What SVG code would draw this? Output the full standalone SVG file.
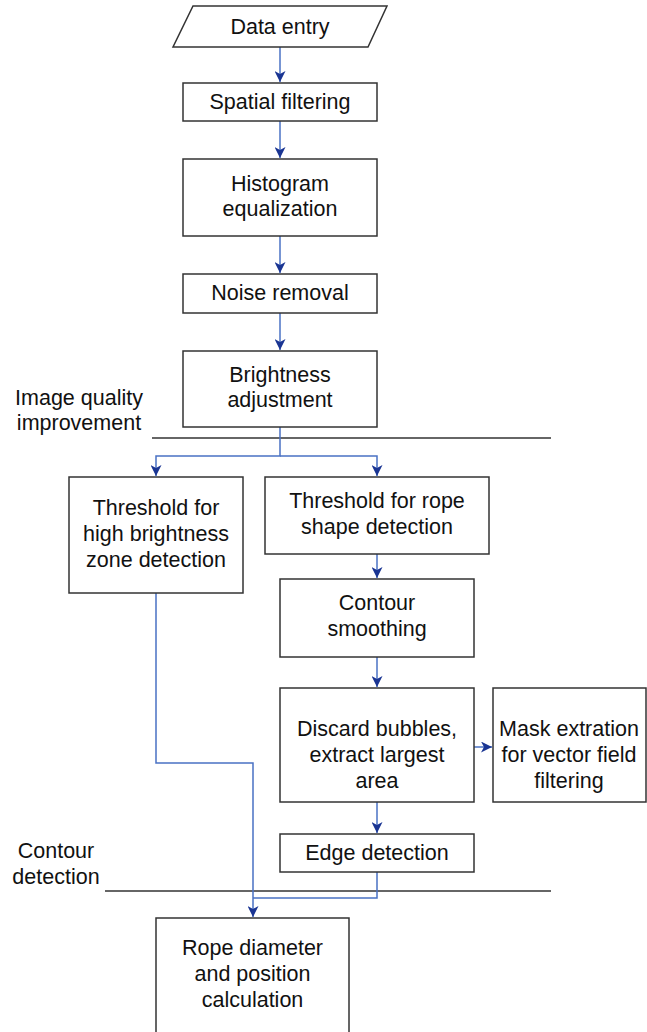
<svg xmlns="http://www.w3.org/2000/svg" width="647" height="1032" viewBox="0 0 647 1032">
<style>
.box{fill:#fff;stroke:#333;stroke-width:1.5}
.t{font-family:"Liberation Sans",Arial,sans-serif;font-size:21.5px;fill:#111;text-anchor:middle}
.c{fill:none;stroke:#4a72c4;stroke-width:1.5}
.sep{stroke:#333;stroke-width:1.5}
</style>
<defs>
<marker id="ah" viewBox="0 0 11 11" refX="11" refY="5.5" markerWidth="11" markerHeight="11" markerUnits="userSpaceOnUse" orient="auto">
<path d="M0,0 L11,5.5 L0,11 L3,5.5 Z" fill="#1a3593"/>
</marker>
</defs>
<rect width="647" height="1032" fill="#fff"/>
<g id="labels">
<text class="t" x="79" y="405">Image quality</text>
<text class="t" x="79" y="430">improvement</text>
<text class="t" x="56" y="858">Contour</text>
<text class="t" x="56" y="884">detection</text>
<line class="sep" x1="152" y1="438" x2="551" y2="438"/>
<line class="sep" x1="105" y1="891" x2="551" y2="891"/>
</g>
<g id="connectors">
<path class="c" d="M280,47 V82" marker-end="url(#ah)"/>
<path class="c" d="M280,121 V158" marker-end="url(#ah)"/>
<path class="c" d="M280,236 V273" marker-end="url(#ah)"/>
<path class="c" d="M280,313 V350" marker-end="url(#ah)"/>
<path class="c" d="M280,427 V456 H156 V476" marker-end="url(#ah)"/>
<path class="c" d="M280,456 H377 V476" marker-end="url(#ah)"/>
<path class="c" d="M377,554 V578" marker-end="url(#ah)"/>
<path class="c" d="M377,657 V687" marker-end="url(#ah)"/>
<path class="c" d="M474,747 H492" marker-end="url(#ah)"/>
<path class="c" d="M377,802 V833" marker-end="url(#ah)"/>
<path class="c" d="M156,593 V763 H253 V917" marker-end="url(#ah)"/>
<path class="c" d="M377,872 V898 H253"/>
</g>
<g id="data-entry">
<polygon class="box" points="193,6 387,6 368,47 173,47"/>
<text class="t" x="280" y="34">Data entry</text>
</g>
<g id="spatial-filtering">
<rect class="box" x="183" y="83" width="194" height="38"/>
<text class="t" x="280" y="109">Spatial filtering</text>
</g>
<g id="histogram">
<rect class="box" x="183" y="159" width="194" height="77"/>
<text class="t" x="280" y="191">Histogram</text>
<text class="t" x="280" y="216">equalization</text>
</g>
<g id="noise-removal">
<rect class="box" x="183" y="274" width="194" height="39"/>
<text class="t" x="280" y="300">Noise removal</text>
</g>
<g id="brightness">
<rect class="box" x="183" y="351" width="194" height="76"/>
<text class="t" x="280" y="382">Brightness</text>
<text class="t" x="280" y="407">adjustment</text>
</g>
<g id="threshold-high">
<rect class="box" x="69" y="477" width="174" height="116"/>
<text class="t" x="156" y="515">Threshold for</text>
<text class="t" x="156" y="541">high brightness</text>
<text class="t" x="156" y="567">zone detection</text>
</g>
<g id="threshold-rope">
<rect class="box" x="265" y="477" width="224" height="77"/>
<text class="t" x="377" y="508">Threshold for rope</text>
<text class="t" x="377" y="534">shape detection</text>
</g>
<g id="contour-smoothing">
<rect class="box" x="280" y="579" width="194" height="78"/>
<text class="t" x="377" y="610">Contour</text>
<text class="t" x="377" y="636">smoothing</text>
</g>
<g id="discard">
<rect class="box" x="280" y="688" width="194" height="114"/>
<text class="t" x="377" y="736">Discard bubbles,</text>
<text class="t" x="377" y="762">extract largest</text>
<text class="t" x="377" y="788">area</text>
</g>
<g id="mask">
<rect class="box" x="493" y="688" width="153" height="114"/>
<text class="t" x="569" y="736">Mask extration</text>
<text class="t" x="569" y="762">for vector field</text>
<text class="t" x="569" y="788">filtering</text>
</g>
<g id="edge-detection">
<rect class="box" x="280" y="834" width="194" height="38"/>
<text class="t" x="377" y="860">Edge detection</text>
</g>
<g id="rope-diameter">
<rect class="box" x="156" y="918" width="193" height="130"/>
<text class="t" x="252.5" y="955">Rope diameter</text>
<text class="t" x="252.5" y="981">and position</text>
<text class="t" x="252.5" y="1007">calculation</text>
</g>
</svg>
